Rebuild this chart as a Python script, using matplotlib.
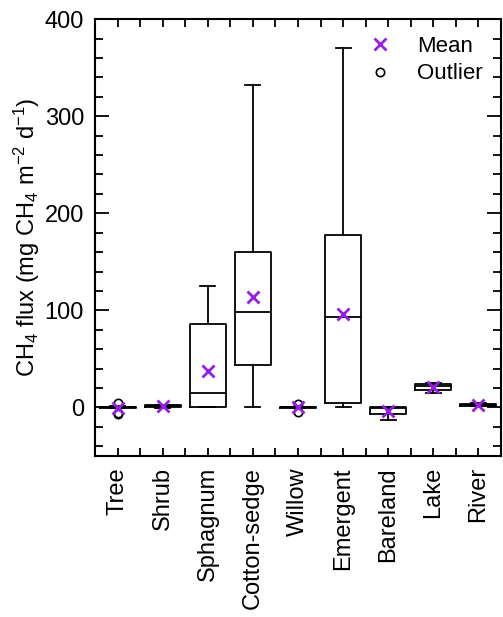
import matplotlib

matplotlib.use("Agg")

import matplotlib.pyplot as plt
from matplotlib.lines import Line2D
from matplotlib.ticker import MultipleLocator

# values (mg CH4 m-2 d-1)
categories = ["Tree", "Shrub", "Sphagnum", "Cotton-sedge", "Willow",
              "Emergent", "Bareland", "Lake", "River"]
whisker_low = [-1.0, -0.5, 0.0, 0.0, -0.5, 0.0, -12.5, 15.0, 1.0]
q1 = [-0.5, 0.0, 0.0, 44.0, -0.3, 5.0, -7.0, 18.0, 1.5]
medians = [0.0, 1.0, 15.0, 98.0, 0.0, 93.0, -1.0, 22.0, 3.0]
q3 = [0.5, 2.0, 86.0, 160.0, 0.3, 178.0, 0.0, 24.5, 4.0]
whisker_high = [1.0, 2.5, 125.0, 332.0, 0.5, 370.0, 0.0, 25.5, 4.5]
means = [-0.5, 1.0, 38.0, 114.0, 0.0, 96.0, -4.0, 21.0, 3.0]
outliers = [[4.5, -5.5, -6.5], [], [], [], [4.0, -4.5], [], [], [], []]

MEAN_COLOR = "#961ee6"

plt.rcParams["font.family"] = ["Liberation Sans", "DejaVu Sans"]
plt.rcParams["mathtext.default"] = "regular"

fig = plt.figure(figsize=(5.03, 6.17), dpi=100)
ax = fig.add_axes([0.189, 0.261, 0.807, 0.708])

positions = list(range(1, len(categories) + 1))
stats = []
for i, name in enumerate(categories):
    stats.append({
        "label": name,
        "whislo": whisker_low[i],
        "q1": q1[i],
        "med": medians[i],
        "q3": q3[i],
        "whishi": whisker_high[i],
        "fliers": outliers[i],
    })

line_kw = {"color": "black", "linewidth": 1.3}
ax.bxp(
    stats,
    positions=positions,
    widths=0.8,
    capwidths=0.33,
    showfliers=True,
    boxprops=line_kw,
    whiskerprops=line_kw,
    capprops=line_kw,
    medianprops=line_kw,
    flierprops={"marker": "o", "markerfacecolor": "none",
                "markeredgecolor": "black", "markersize": 6,
                "markeredgewidth": 1.2},
)
ax.plot(positions, means, "x", color=MEAN_COLOR, markersize=9,
        markeredgewidth=2, zorder=5)

ax.set_xlim(0.5, 9.5)
ax.set_ylim(-50, 400)
ax.set_xticks(positions)
ax.set_xticklabels(categories, rotation=90, fontsize=17)
ax.xaxis.set_minor_locator(MultipleLocator(0.5))
ax.yaxis.set_major_locator(MultipleLocator(100))
ax.yaxis.set_minor_locator(MultipleLocator(20))
ax.tick_params(axis="y", which="major", direction="in", length=10,
               width=1.3, labelsize=17, left=True, right=True, pad=8)
ax.tick_params(axis="y", which="minor", direction="in", length=6,
               width=1.3, left=True, right=True)
ax.tick_params(axis="x", which="both", direction="in", length=6,
               width=1.3, top=True, bottom=True)
ax.tick_params(axis="x", which="major", pad=8)
for spine in ax.spines.values():
    spine.set_linewidth(1.5)

ax.set_ylabel("CH$_4$ flux (mg CH$_4$ m$^{-2}$ d$^{-1}$)", fontsize=17,
              labelpad=2)

handles = [
    Line2D([], [], marker="x", linestyle="none", color=MEAN_COLOR,
           markersize=9, markeredgewidth=2, label="Mean"),
    Line2D([], [], marker="o", linestyle="none", markerfacecolor="none",
           markeredgecolor="black", markersize=6, markeredgewidth=1.2,
           label="Outlier"),
]
ax.legend(handles=handles, loc="upper right", bbox_to_anchor=(1.005, 1.008),
          frameon=False, fontsize=16, handletextpad=0.7,
          labelspacing=0.3)

fig.savefig("out.png", dpi=100)
